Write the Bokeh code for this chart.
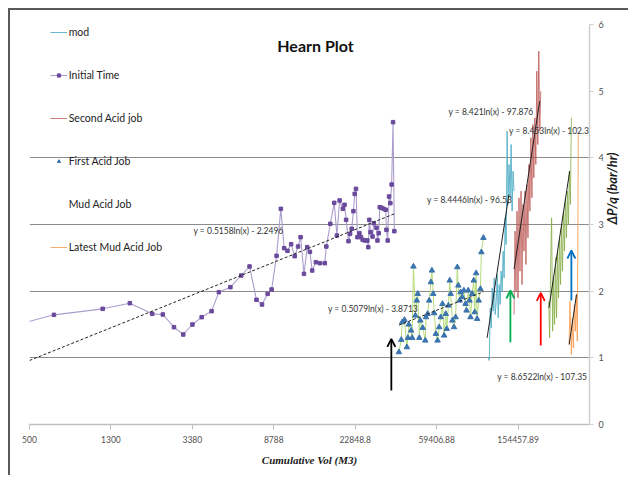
from math import pi
from bokeh.plotting import figure
from bokeh.models import FixedTicker, Legend, LegendItem, Label, Arrow, OpenHead
from bokeh.embed import file_html
from bokeh.resources import INLINE

FONT = "Lato"

# ---------------- data ----------------
x_ticks = [500, 1300, 3380, 8788, 22848.8, 59406.88, 154457.89]
x_tick_labels = ["500", "1300", "3380", "8788", "22848.8", "59406.88", "154457.89"]
y_ticks = [0, 1, 2, 3, 4, 5, 6]

initial_x = [400, 666, 1180, 1623, 2110, 2390, 2724, 3037, 3383, 3770, 4235,
             4613, 5280, 5998, 6612, 7172, 7653, 8177, 8566, 9078, 9544, 9925,
             10316, 10770, 11228, 11680, 12036, 12522, 13011, 13425, 13786,
             14393, 15075, 15977, 16278, 17050, 17860, 18425, 19023, 19760,
             20155, 20530, 21110, 21510, 21930, 22370, 22710, 23055, 23450,
             23995, 24440, 24930, 25605, 26335, 26630, 26950, 27360, 27995,
             28415, 29330, 29660, 30110, 30475, 31090, 31910, 32685, 32950,
             33445, 33985, 34500, 35025, 35610, 36150]
initial_y = [1.47, 1.645, 1.735, 1.82, 1.66, 1.65, 1.46, 1.35, 1.50, 1.61, 1.70,
             1.985, 2.06, 2.235, 2.37, 1.87, 1.80, 1.96, 2.025, 2.53, 3.235, 2.645,
             2.605, 2.705, 2.525, 2.67, 2.81, 2.26, 2.66, 2.59, 2.31,
             2.435, 2.42, 2.42, 2.67, 3.01, 3.325, 2.835, 3.36, 3.235,
             3.295, 3.07, 2.75, 2.86, 2.935, 3.20, 3.46, 3.535, 2.81,
             2.87, 2.81, 2.77, 2.76, 2.76, 2.66, 3.07, 2.885, 2.82,
             3.02, 2.95, 2.76, 2.87, 3.26, 3.25, 3.235, 3.22, 2.92,
             2.76, 3.42, 3.32, 3.60, 4.535, 2.90]

first_x = [38150, 39200, 39650, 40725, 41875, 42400, 42850, 44030, 44550, 45240,
           46300, 47050, 47600, 48470, 49040, 50430, 51980, 52400, 53430, 54430,
           55520, 56180, 57050, 57720, 58860, 60040, 61160, 62350, 63600, 64830,
           66100, 66870, 68190, 69230, 70040, 71450, 72800, 74200, 75700, 76600,
           77750, 78650, 80220, 81740, 83360, 84330, 86030, 87340, 88380, 90100,
           91800, 92880, 94400, 95500, 97300, 99260, 100400, 102800]
first_y = [1.085, 1.27, 1.535, 1.57, 1.16, 1.30, 1.50, 1.41, 1.30, 2.37,
           1.635, 1.86, 1.96, 1.30, 1.56, 1.45, 1.26, 1.61, 1.66, 1.86,
           2.135, 2.31, 1.96, 1.67, 1.36, 1.26, 1.46, 1.61, 1.81, 1.335,
           1.66, 1.435, 1.785, 2.16, 1.96, 1.56, 1.46, 1.61, 2.36, 2.085,
           1.86, 1.985, 1.91, 2.01, 1.81, 1.71, 2.01, 1.86, 1.61, 1.96,
           2.16, 1.685, 2.27, 1.585, 1.86, 2.035, 2.585, 2.80]

mod_x = [108900, 110150, 111400, 112700, 114000, 115400, 116700, 118100, 119500,
         120900, 122300, 123700, 125100, 126600, 128100, 129600, 131100, 132700,
         134200, 135800, 137300, 138900, 140600, 142300, 144000, 145600, 147300]
mod_y = [1.00, 0.96, 1.75, 1.45, 2.05, 1.70, 2.20, 1.65, 1.85,
         2.25, 1.60, 2.10, 1.80, 2.30, 2.00, 2.60, 2.20, 3.10,
         2.70, 4.40, 3.30, 3.90, 3.40, 4.20, 3.20, 3.80, 3.50]

second_x = [147300, 149000, 150700, 152500, 154300, 156100, 157900, 159900,
            161700, 163600, 165500, 167400, 169400, 171400, 173400, 175400,
            177400, 179500, 181600, 183700, 185800, 188000, 190200, 192400,
            194700, 196900, 199200, 201500]
second_y = [1.65, 2.90, 2.00, 3.20, 1.90, 3.40, 2.30, 3.50,
            2.10, 3.30, 2.60, 3.50, 2.40, 3.60, 2.80, 3.90,
            3.20, 4.30, 3.40, 4.50, 3.70, 4.60, 3.90, 5.30,
            4.20, 5.60, 4.40, 5.00]

mud_x = [221100, 223700, 226300, 228900, 231600, 234300, 237000, 239800,
         242600, 245400, 248300, 251200, 254100, 257100, 260000, 263100,
         266100, 269200, 272300, 275500, 278700, 282000, 285200, 288600]
mud_y = [1.85, 1.30, 2.40, 3.10, 1.40, 2.20, 1.50, 2.50,
         1.60, 2.60, 1.90, 2.80, 2.10, 3.00, 2.30, 3.20,
         2.60, 3.40, 2.80, 3.50, 3.00, 3.80, 3.30, 4.60]

latest_x = [281000, 284000, 288600, 291900, 295300, 298900, 302400, 305900, 309500, 313100]
latest_y = [1.20, 1.85, 1.05, 1.60, 1.15, 1.80, 1.40, 1.95, 1.25, 4.35]

# trend lines (end points) and their equations
trend_x = [[500, 36150], [38150, 102800], [107400, 138700],
           [147300, 199000], [221900, 282900], [281200, 306600]]
trend_y = [[0.96, 3.16], [1.49, 1.99], [1.30, 3.45],
           [2.33, 4.85], [1.75, 3.80], [1.20, 1.95]]
trend_dash = ["3 2", "3 2", "solid", "solid", "solid", "solid"]

eq_text = ["y = 0.5158ln(x) - 2.2496", "y = 0.5079ln(x) - 3.8713",
           "y = 8.421ln(x) - 97.876", "y = 8.4446ln(x) - 96.53",
           "y = 8.453ln(x) - 102.3", "y = 8.6522ln(x) - 107.35"]
eq_x = [3425, 16600, 68200, 53000, 138900, 120900]
eq_y = [2.91, 1.74, 4.685, 3.375, 4.41, 0.71]

arrow_x = [34900, 141100, 201500, 288600]
arrow_y0 = [0.51, 1.235, 1.185, 1.86]
arrow_y1 = [1.285, 2.01, 1.975, 2.61]
arrow_colors = ["#000000", "#00b050", "#ff0000", "#0070c0"]

# ---------------- figure ----------------
p = figure(width=620, height=467, x_axis_type="log", x_range=(500, 357000),
           y_range=(0, 6), y_axis_location="right", output_backend="svg",
           toolbar_location=None, min_border_left=19, min_border_right=35,
           min_border_top=14, min_border_bottom=53)
p.styles = {"margin-left": "8px", "margin-top": "8px",
            "border-left": "2px solid #595959", "border-top": "2px solid #595959"}
p.outline_line_color = None
p.background_fill_color = "white"
p.border_fill_color = "white"

p.xgrid.visible = False
p.ygrid.ticker = FixedTicker(ticks=[1, 2, 3, 4])
p.ygrid.grid_line_color = "#8c8c8c"
p.ygrid.grid_line_width = 1

xa = p.xaxis[0]
xa.ticker = FixedTicker(ticks=x_ticks)
xa.major_label_overrides = dict(zip(x_ticks, x_tick_labels))
xa.minor_tick_line_color = None
xa.axis_line_color = "#bfbfbf"
xa.axis_line_width = 1.5
xa.major_tick_line_color = "#bfbfbf"
xa.major_tick_out = 5
xa.major_tick_in = 0
xa.major_label_standoff = 6
xa.major_label_text_font = FONT
xa.major_label_text_font_size = "8.5px"
xa.major_label_text_color = "#505050"
xa.axis_label = "Cumulative Vol (M3)"
xa.axis_label_text_font = "Liberation Serif"
xa.axis_label_text_font_style = "bold italic"
xa.axis_label_text_font_size = "11px"
xa.axis_label_text_color = "#1a1a1a"
xa.axis_label_standoff = 8

ya = p.yaxis[0]
ya.ticker = FixedTicker(ticks=y_ticks)
ya.minor_tick_line_color = None
ya.axis_line_color = "#cfcfcf"
ya.axis_line_width = 1.5
ya.major_tick_line_color = "#cfcfcf"
ya.major_tick_out = 4
ya.major_tick_in = 0
ya.major_label_standoff = 5
ya.major_label_text_font = FONT
ya.major_label_text_font_size = "9px"
ya.major_label_text_color = "#505050"
ya.axis_label = "\u0394P/q (bar/hr)"
ya.axis_label_text_font = FONT
ya.axis_label_text_font_style = "bold italic"
ya.axis_label_text_font_size = "13px"
ya.axis_label_text_color = "#1a1a1a"
ya.axis_label_standoff = 5
try:
    ya.axis_label_orientation = pi / 2
except Exception:
    pass

# ---------------- series ----------------
r_init_line = p.line(initial_x, initial_y, line_color="#ab9dcc", line_width=1.1)
r_init_mark = p.scatter(initial_x, initial_y, marker="square", size=3.5,
                        fill_color="#6a4a9c", line_color="#6a4a9c")

r_first_line = p.line(first_x, first_y, line_color="#b5db7a", line_width=1)
r_first_mark = p.scatter(first_x, first_y, marker="triangle", size=5.5,
                         fill_color="#3a73ad", line_color="#3a73ad")

r_mod = p.line(mod_x, mod_y, line_color="#4bacc6", line_width=1, line_alpha=0.85)
r_second = p.line(second_x, second_y, line_color="#b8504c", line_width=1, line_alpha=0.75)
r_mud = p.line(mud_x, mud_y, line_color="#86ad45", line_width=1, line_alpha=0.8)
r_latest = p.line(latest_x, latest_y, line_color="#f79646", line_width=1, line_alpha=0.8)
r_empty = p.line([], [], line_alpha=0)

for tx, ty, dash in zip(trend_x, trend_y, trend_dash):
    p.line(tx, ty, line_color="#222222", line_width=1, line_dash=dash)

for ax, a0, a1, col in zip(arrow_x, arrow_y0, arrow_y1, arrow_colors):
    p.add_layout(Arrow(end=OpenHead(size=8, line_color=col, line_width=1.8),
                       x_start=ax, y_start=a0, x_end=ax, y_end=a1,
                       line_color=col, line_width=1.8))

for t, ex, ey in zip(eq_text, eq_x, eq_y):
    p.add_layout(Label(x=ex, y=ey, text=t, text_font=FONT, text_font_size="8.5px",
                       text_color="#333333", text_baseline="middle", text_align="left"))

# title
p.add_layout(Label(x=286, y=379, x_units="screen", y_units="screen", text="Hearn Plot",
                   text_font=FONT, text_font_style="bold", text_font_size="16px",
                   text_align="center", text_baseline="middle", text_color="#111111"))

legend = Legend(items=[
    LegendItem(label="mod", renderers=[r_mod]),
    LegendItem(label="Initial Time", renderers=[r_init_line, r_init_mark]),
    LegendItem(label="Second Acid job", renderers=[r_second]),
    LegendItem(label="First Acid Job", renderers=[r_first_mark]),
    LegendItem(label="Mud Acid Job", renderers=[r_empty]),
    LegendItem(label="Latest Mud Acid Job", renderers=[r_latest]),
], location=(20.7, 167), orientation="vertical", padding=0, margin=0,
    spacing=23, glyph_width=17, glyph_height=8, label_height=20, label_standoff=2,
    label_text_font=FONT, label_text_font_size="10.5px", label_text_color="#222222",
    border_line_color=None, background_fill_alpha=0)
p.add_layout(legend)

open("out.html", "w").write(file_html(p, INLINE))
